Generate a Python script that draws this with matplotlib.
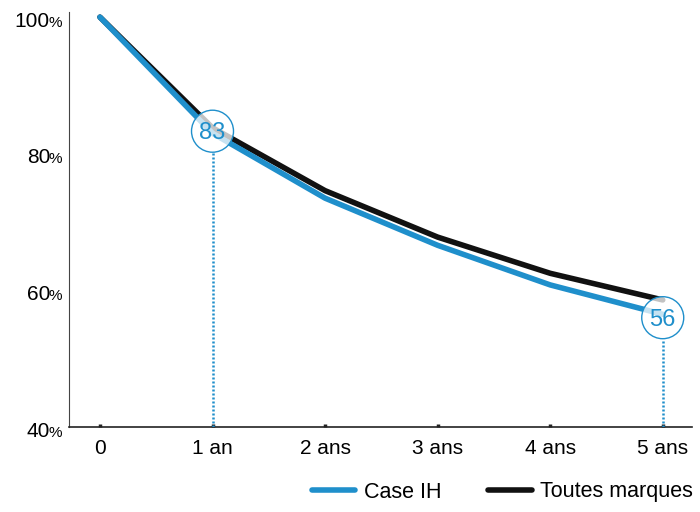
import matplotlib.pyplot as plt
from matplotlib.patches import Ellipse
import matplotlib.transforms as mtransforms

plt.rcParams['font.family'] = ['Liberation Sans', 'DejaVu Sans']

# data
years = [0, 1, 2, 3, 4, 5]
xlabels = ['0', '1 an', '2 ans', '3 ans', '4 ans', '5 ans']
case_ih = [100, 83.0, 73.5, 66.6, 60.8, 56.5]
toutes = [100, 83.8, 74.6, 67.8, 62.5, 58.6]
yticks = [40, 60, 80, 100]
callouts = [(1, '83'), (5, '56')]

blue = '#1f8fcb'

W, H = 700, 512
fig = plt.figure(figsize=(W / 100, H / 100), dpi=100)
ax = fig.add_axes([69 / W, 1 - 427 / H, (692 - 69) / W, (427 - 12) / H])

ax.plot(years, toutes, color='#111111', lw=4, solid_capstyle='round', label='Toutes marques', zorder=2)
ax.plot(years, case_ih, color=blue, lw=4, solid_capstyle='round', label='Case IH', zorder=3)

ax.set_xlim(-0.275, 5.26)
ax.set_ylim(40, 100.75)

px_x = 112.6   # pixels per year
px_y = 6.83    # pixels per percent

# callout circles with dotted drop lines
for xi, txt in callouts:
    yv = case_ih[xi] + (0.3 if xi == 1 else -0.5)
    rx = 21 / px_x
    ry = 21 / px_y
    ax.plot([xi, xi], [40, yv - ry], color=blue, lw=1.8, ls=(0, (0.8, 0.8)), zorder=4)
    ax.add_patch(Ellipse((xi, yv), 2 * rx, 2 * ry, facecolor=(1, 1, 1, 0.75),
                         edgecolor=blue, lw=1, zorder=5))
    ax.text(xi, yv - 0.3, txt, color=blue, fontsize=17, ha='center', va='center', zorder=6)

ax.set_xticks(years)
ax.set_xticklabels(xlabels, fontsize=15)
ax.set_yticks(yticks)
ax.set_yticklabels([])
ax.tick_params(axis='y', length=0)
ax.tick_params(axis='x', length=2, width=2.5, direction='in', color='#222222', pad=9)

# y labels: number plus a smaller percent sign on the same baseline
trans = mtransforms.blended_transform_factory(ax.transAxes, ax.transData)
aw = 692 - 69
for v in yticks:
    ax.text(-19 / aw, v - 1.4, str(v), transform=trans, fontsize=15,
            ha='right', va='baseline', clip_on=False)
    ax.text(-7 / aw, v - 1.4, '%', transform=trans, fontsize=11,
            ha='right', va='baseline', clip_on=False)

for s in ['top', 'right']:
    ax.spines[s].set_visible(False)
ax.spines['left'].set_color('#444444')
ax.spines['bottom'].set_color('#222222')
ax.spines['left'].set_linewidth(0.8)
ax.spines['bottom'].set_linewidth(1.2)

fig.legend(handles=[ax.lines[1], ax.lines[0]],
           loc='center right', bbox_to_anchor=(0.99, 1 - 492 / H), ncol=2, frameon=False,
           fontsize=15.5, handlelength=2.0, handletextpad=0.4, columnspacing=2.2,
           borderpad=0, borderaxespad=0)

fig.savefig('out.png', dpi=100)
